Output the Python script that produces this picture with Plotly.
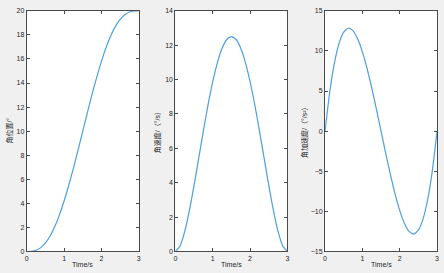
import plotly.graph_objects as go

# time samples (s)
time_s = [0, 0.125, 0.25, 0.375, 0.5, 0.625, 0.75, 0.875, 1.0, 1.125, 1.25, 1.375, 1.5,
          1.625, 1.75, 1.875, 2.0, 2.125, 2.25, 2.375, 2.5, 2.625, 2.75, 2.875, 3.0]

# angular position (deg)
angle_pos = [0, 0.014, 0.102, 0.321, 0.71, 1.29, 2.07, 3.045, 4.198, 5.504, 6.93, 8.445, 10.0,
             11.555, 13.07, 14.496, 15.80, 16.955, 17.93, 18.71, 19.29, 19.679, 19.898, 19.986, 20.0]

# angular velocity (deg/s)
angle_vel = [0, 0.319, 1.167, 2.393, 3.858, 5.44, 7.031, 8.537, 9.877, 10.99, 11.82, 12.33, 12.5,
             12.33, 11.82, 10.99, 9.877, 8.537, 7.031, 5.44, 3.858, 2.393, 1.167, 0.319, 0]

# angular acceleration (deg/s^2)
angle_acc = [0, 4.88, 8.488, 10.94, 12.35, 12.83, 12.5, 11.48, 9.877, 7.81, 5.40, 2.76, 0,
             -2.76, -5.40, -7.81, -9.877, -11.48, -12.5, -12.83, -12.35, -10.94, -8.488, -4.88, 0]

y_titles = ["角位置/°", "角速度/（°/s）", "角加速度/（°/s²）"]
x_title = "Time/s"
x_ticks = [0, 1, 2, 3]
y_ranges = [[0, 20], [0, 14], [-15, 15]]
y_dticks = [2, 2, 5]

W, H = 444, 273
x_px = [(25, 138), (175, 288), (326, 439)]
y_px = (7, 254)
ytitle_x = [8, 157, 305]

LINE = "#4d9fe0"
AX = "#4a4a4a"
FONT = "Liberation Sans, Arial, Noto Sans CJK SC, sans-serif"

fig = go.Figure()
series = [angle_pos, angle_vel, angle_acc]
for i, ys in enumerate(series):
    sfx = "" if i == 0 else str(i + 1)
    fig.add_trace(go.Scatter(x=time_s, y=ys, mode="lines",
                             line=dict(color=LINE, width=1.2, shape="spline", smoothing=0.6),
                             xaxis="x" + sfx, yaxis="y" + sfx, showlegend=False))

ydom = [1 - y_px[1] / H, 1 - y_px[0] / H]
layout = dict(width=W, height=H, margin=dict(l=0, r=0, t=0, b=0),
              paper_bgcolor="#f0f0f0", plot_bgcolor="white",
              font=dict(family=FONT, size=7, color="#262626"), showlegend=False)
annotations = []
for i in range(3):
    sfx = "" if i == 0 else str(i + 1)
    xd = [x_px[i][0] / W, x_px[i][1] / W]
    layout["xaxis" + sfx] = dict(domain=xd, anchor="y" + sfx, range=[0, 3],
                                 tickvals=x_ticks, ticks="inside", ticklen=3, tickcolor=AX,
                                 showline=True, linecolor=AX, linewidth=1, mirror="ticks",
                                 showgrid=False, zeroline=False, fixedrange=True,
                                 tickfont=dict(size=7))
    layout["yaxis" + sfx] = dict(domain=ydom, anchor="x" + sfx, range=y_ranges[i],
                                 dtick=y_dticks[i], ticks="inside", ticklen=3, tickcolor=AX,
                                 showline=True, linecolor=AX, linewidth=1, mirror="ticks",
                                 showgrid=False, zeroline=False, fixedrange=True,
                                 tickfont=dict(size=7))
    annotations.append(dict(text=x_title, xref="paper", yref="paper",
                            x=(xd[0] + xd[1]) / 2, y=1 - 267 / H, showarrow=False,
                            font=dict(size=7), xanchor="center", yanchor="middle"))
    annotations.append(dict(text=y_titles[i], xref="paper", yref="paper",
                            x=ytitle_x[i] / W, y=1 - 130 / H, showarrow=False, textangle=-90,
                            font=dict(size=7), xanchor="center", yanchor="middle"))
layout["annotations"] = annotations
fig.update_layout(**layout)
fig.write_html("out.html")
